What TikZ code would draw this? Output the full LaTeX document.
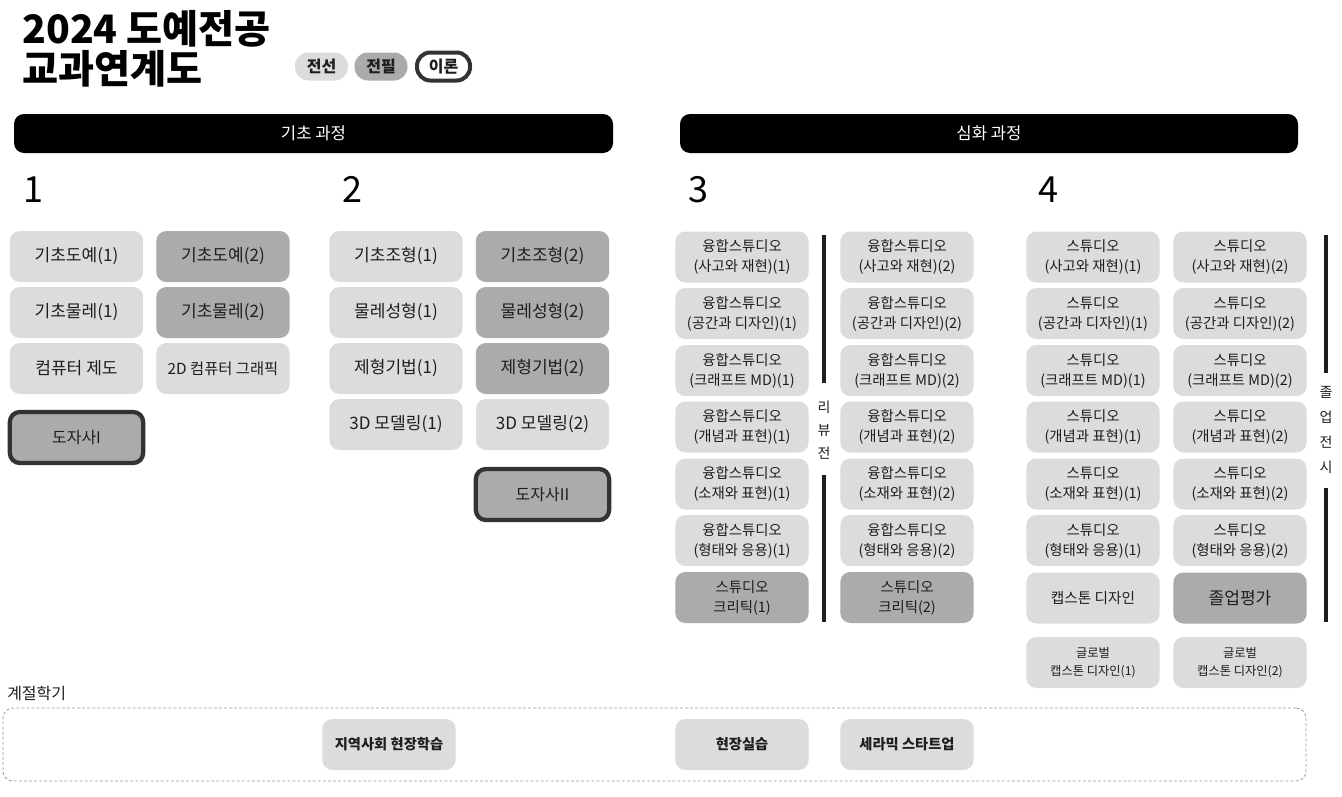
\documentclass[tikz,border=0pt]{standalone}
\usepackage{fontspec}
\setmainfont{Noto Sans CJK KR}
\definecolor{lgray}{HTML}{DCDCDC}
\definecolor{dgray}{HTML}{ABABAB}
\definecolor{bord}{HTML}{333333}
\definecolor{txt}{HTML}{1E1E1E}
\definecolor{dashgray}{HTML}{9A9A9A}
\begin{document}
\begin{tikzpicture}[x=0.75pt,y=-0.75pt,
  box/.style={rounded corners=7.5pt, align=center, inner sep=0pt,
    minimum width=100pt, minimum height=38.25pt, text=txt,
    font=\fontsize{12.8}{15}\selectfont},
  lt/.style={box, fill=lgray},
  dk/.style={box, fill=dgray},
  th/.style={box, fill=dgray, draw=bord, line width=3.2pt},
  two/.style={font=\fontsize{10.8}{15}\selectfont},
  glob/.style={font=\fontsize{9.2}{13.5}\selectfont},
  bar/.style={fill=black, rounded corners=7.5pt, text=white, inner sep=0pt,
    minimum height=29.25pt, font=\fontsize{12.5}{15}\selectfont},
  num/.style={anchor=base, inner sep=0pt, font=\fontsize{27}{30}\selectfont},
  pill/.style={rounded corners=10pt, inner sep=0pt, minimum width=39.75pt,
    minimum height=21pt, font=\fontsize{12}{14}\selectfont\bfseries, text=txt},
  vlab/.style={align=center, inner sep=0pt, text=txt},
  vline/.style={line width=2.3pt, draw=txt},
  summerbox/.style={draw=dashgray, dash pattern=on 2.2pt off 1.6pt, line width=0.6pt,
    rounded corners=7.5pt, minimum width=977.25pt, minimum height=54.75pt, inner sep=0pt},
  bb/.style={box, fill=lgray, font=\fontsize{10.7}{14}\selectfont\bfseries}
]
\useasboundingbox (0,0) rectangle (1342,796);

% title
\node[anchor=base west, inner sep=0pt, font=\fontsize{29.4}{30}\selectfont\bfseries] (title1) at (22,43) {2024 도예전공};
\node[anchor=base west, inner sep=0pt, font=\fontsize{29.4}{30}\selectfont\bfseries] (title2) at (22,83) {교과연계도};

% legend
\node[pill, fill=lgray] (leg1) at (321.5,66.5) {전선};
\node[pill, fill=dgray] (leg2) at (381,66.5) {전필};
\node[pill, fill=white, draw=bord, line width=3pt] (leg3) at (443.5,66.5) {이론};

% header bars
\node[bar, minimum width=449.25pt] (basic) at (313.5,133.5) {기초 과정};
\node[bar, minimum width=463.5pt] (adv) at (989,133.5) {심화 과정};

% year numbers
\node[num] (n1) at (33,202) {1};
\node[num] (n2) at (352,202) {2};
\node[num] (n3) at (698,202) {3};
\node[num] (n4) at (1048,202) {4};

% column 1
\node[lt] (a1) at (76.5,256.5) {기초도예(1)};
\node[dk] (b1) at (223,256.5) {기초도예(2)};
\node[lt] (a2) at (76.5,312.5) {기초물레(1)};
\node[dk] (b2) at (223,312.5) {기초물레(2)};
\node[lt] (a3) at (76.5,368.5) {컴퓨터 제도};
\node[lt, font=\fontsize{11.5}{14}\selectfont] (b3) at (223,368.5) {2D 컴퓨터 그래픽};
\node[th, font=\fontsize{12}{14}\selectfont] (ds1) at (76.5,437.5) {도자사I};

% column 2
\node[lt] (c1) at (396,256.5) {기초조형(1)};
\node[dk] (d1) at (542.5,256.5) {기초조형(2)};
\node[lt] (c2) at (396,312.5) {물레성형(1)};
\node[dk] (d2) at (542.5,312.5) {물레성형(2)};
\node[lt] (c3) at (396,368.5) {제형기법(1)};
\node[dk] (d3) at (542.5,368.5) {제형기법(2)};
\node[lt] (c4) at (396,424.5) {3D 모델링(1)};
\node[lt] (d4) at (542.5,424.5) {3D 모델링(2)};
\node[th, font=\fontsize{12}{14}\selectfont] (ds2) at (542.5,494.5) {도자사II};

% column 3
\node[lt, two] (e1) at (742,257) {융합스튜디오\\(사고와 재현)(1)};
\node[lt, two] (f1) at (907,257) {융합스튜디오\\(사고와 재현)(2)};
\node[lt, two] (e2) at (742,313.5) {융합스튜디오\\(공간과 디자인)(1)};
\node[lt, two] (f2) at (907,313.5) {융합스튜디오\\(공간과 디자인)(2)};
\node[lt, two] (e3) at (742,370.5) {융합스튜디오\\(크래프트 MD)(1)};
\node[lt, two] (f3) at (907,370.5) {융합스튜디오\\(크래프트 MD)(2)};
\node[lt, two] (e4) at (742,427) {융합스튜디오\\(개념과 표현)(1)};
\node[lt, two] (f4) at (907,427) {융합스튜디오\\(개념과 표현)(2)};
\node[lt, two] (e5) at (742,484) {융합스튜디오\\(소재와 표현)(1)};
\node[lt, two] (f5) at (907,484) {융합스튜디오\\(소재와 표현)(2)};
\node[lt, two] (e6) at (742,540.5) {융합스튜디오\\(형태와 응용)(1)};
\node[lt, two] (f6) at (907,540.5) {융합스튜디오\\(형태와 응용)(2)};
\node[dk, two] (e7) at (742,597.5) {스튜디오\\크리틱(1)};
\node[dk, two] (f7) at (907,597.5) {스튜디오\\크리틱(2)};

% review exhibition
\node[vlab, font=\fontsize{10.5}{17.25}\selectfont] (rv) at (824,430) {리\\뷰\\전};
\coordinate (rvA) at (824,235);
\coordinate (rvB) at (824,383);
\coordinate (rvC) at (824,475);
\coordinate (rvD) at (824,622);
\draw[vline] (rvA) -- (rvB);
\draw[vline] (rvC) -- (rvD);

% column 4
\node[lt, two] (g1) at (1093,257) {스튜디오\\(사고와 재현)(1)};
\node[lt, two] (h1) at (1240,257) {스튜디오\\(사고와 재현)(2)};
\node[lt, two] (g2) at (1093,313.5) {스튜디오\\(공간과 디자인)(1)};
\node[lt, two] (h2) at (1240,313.5) {스튜디오\\(공간과 디자인)(2)};
\node[lt, two] (g3) at (1093,370.5) {스튜디오\\(크래프트 MD)(1)};
\node[lt, two] (h3) at (1240,370.5) {스튜디오\\(크래프트 MD)(2)};
\node[lt, two] (g4) at (1093,427) {스튜디오\\(개념과 표현)(1)};
\node[lt, two] (h4) at (1240,427) {스튜디오\\(개념과 표현)(2)};
\node[lt, two] (g5) at (1093,484) {스튜디오\\(소재와 표현)(1)};
\node[lt, two] (h5) at (1240,484) {스튜디오\\(소재와 표현)(2)};
\node[lt, two] (g6) at (1093,540.5) {스튜디오\\(형태와 응용)(1)};
\node[lt, two] (h6) at (1240,540.5) {스튜디오\\(형태와 응용)(2)};
\node[lt, font=\fontsize{11}{14}\selectfont] (g7) at (1093,598) {캡스톤 디자인};
\node[dk, font=\fontsize{12.8}{15}\selectfont] (h7) at (1240,598) {졸업평가};
\node[lt, glob] (g8) at (1093,662.5) {글로벌\\캡스톤 디자인(1)};
\node[lt, glob] (h8) at (1240,662.5) {글로벌\\캡스톤 디자인(2)};

% graduation exhibition
\node[vlab, font=\fontsize{10.5}{18.75}\selectfont] (gx) at (1326,430) {졸\\업\\전\\시};
\coordinate (gxA) at (1326,235);
\coordinate (gxB) at (1326,373);
\coordinate (gxC) at (1326,488);
\coordinate (gxD) at (1326,622);
\draw[vline] (gxA) -- (gxB);
\draw[vline] (gxC) -- (gxD);

% summer / winter session
\node[anchor=base west, inner sep=0pt, text=txt, font=\fontsize{12}{14}\selectfont] (sem) at (7,699) {계절학기};
\node[summerbox] (sbox) at (654.5,744.5) {};
\node[bb] (s1) at (389,744.5) {지역사회 현장학습};
\node[bb] (s2) at (742,744.5) {현장실습};
\node[bb] (s3) at (907,744.5) {세라믹 스타트업};
\end{tikzpicture}
\end{document}
